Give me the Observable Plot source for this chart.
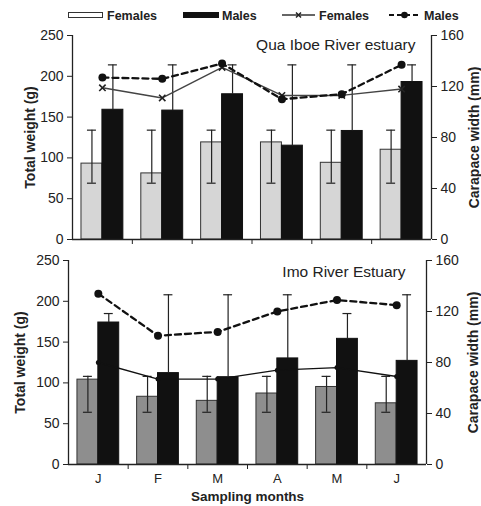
<!DOCTYPE html>
<html><head><meta charset="utf-8">
<script src="https://cdn.jsdelivr.net/npm/d3@7"></script>
<script src="https://cdn.jsdelivr.net/npm/@observablehq/plot@0.6"></script>
<style>
body{margin:0;background:#fff;font-family:"Liberation Sans",Arial,sans-serif;width:481px;height:506px;position:relative;overflow:hidden}
#legend{position:absolute;left:0;top:0;width:481px;height:25px;font-weight:bold;font-size:12.5px;color:#222}
#legend .it{position:absolute;top:9px;line-height:14px}
#legend .sw{position:absolute;top:12px;height:6px;box-sizing:border-box;border:1.2px solid #333}
#c1{position:absolute;left:0;top:25px}
#c2{position:absolute;left:0;top:250px}
</style>
</head><body>
<div id="legend"></div><div id="c1"></div><div id="c2"></div>
<script>
// ---- data ----
const months = ["J","F","M","A","M","J"];
const axisWeightTicks = [0,50,100,150,200,250];
const axisWidthTicks = [0,40,80,120,160];

// Qua Iboe River estuary
const quaFemaleWeight = [93,81,119,119,94,110];
const quaFemaleErrLow = [69,69,69,69,69,69];
const quaFemaleErrHigh = [134,134,134,134,134,134];
const quaMaleWeight = [159,158,178,115,133,193];
const quaMaleErrHigh = [214,214,214,214,214,214];
const quaFemaleWidth = [119,111,135,113,113,118];
const quaMaleWidth = [127,126,138,110,114,137];

// Imo River Estuary
const imoFemaleWeight = [104,83,78,87,95,75];
const imoFemaleErrLow = [64,64,64,64,64,64];
const imoFemaleErrHigh = [108,108,108,108,108,108];
const imoMaleWeight = [174,112,107,130,154,127];
const imoMaleErrHigh = [185,208,208,208,185,208];
const imoFemaleWidth = [80,67,67,74,76,69];
const imoMaleWidth = [134,101,104,120,129,125];

// ---- legend ----
const lg = document.getElementById("legend");
lg.innerHTML = `
<div class="sw" style="left:68px;width:35px;background:#fff"></div>
<div class="it" style="left:107px">Females</div>
<div class="sw" style="left:183px;width:36px;background:#111;border-color:#111"></div>
<div class="it" style="left:222px">Males</div>
<svg style="position:absolute;left:282px;top:10px" width="33" height="10"><line x1="0" y1="5" x2="33" y2="5" stroke="#333" stroke-width="1.3"/><path d="M14,2.5L19,7.5M19,2.5L14,7.5" stroke="#222" stroke-width="1.5"/></svg>
<div class="it" style="left:319px">Females</div>
<svg style="position:absolute;left:389px;top:10px" width="31" height="10"><line x1="0" y1="5" x2="31" y2="5" stroke="#111" stroke-width="2.2" stroke-dasharray="5,3"/><circle cx="15.5" cy="5" r="3.3" fill="#111"/></svg>
<div class="it" style="left:424px">Males</div>`;

const K = 250/160;
function build(cfg){
  const rows = months.map((m,i)=>({
    i, m,
    fw: cfg.fw[i], flo: cfg.flo[i], fhi: cfg.fhi[i],
    mw: cfg.mw[i], mhi: cfg.mhi[i],
    fc: cfg.fc[i]*K, mc: cfg.mc[i]*K
  }));
  const cap = 0.075;
  const marks = [
    Plot.rectY(rows, {x1: d=>d.i+0.15, x2: d=>d.i+0.5, y1: 0, y2: "fw", fill: cfg.femFill, stroke: "#333", strokeWidth: 1}),
    Plot.rectY(rows, {x1: d=>d.i+0.5, x2: d=>d.i+0.85, y1: 0, y2: "mw", fill: "#111", stroke: "#111", strokeWidth: 1}),
    // female error bars
    Plot.ruleX(rows, {x: d=>d.i+0.325, y1: "flo", y2: "fhi", stroke: "#222", strokeWidth: 1.2}),
    Plot.ruleY(rows, {x1: d=>d.i+0.325-cap, x2: d=>d.i+0.325+cap, y: "flo", stroke: "#222", strokeWidth: 1.2}),
    Plot.ruleY(rows, {x1: d=>d.i+0.325-cap, x2: d=>d.i+0.325+cap, y: "fhi", stroke: "#222", strokeWidth: 1.2}),
    // male error bars
    Plot.ruleX(rows, {x: d=>d.i+0.675, y1: "mw", y2: "mhi", stroke: "#222", strokeWidth: 1.2}),
    Plot.ruleY(rows, {x1: d=>d.i+0.675-cap, x2: d=>d.i+0.675+cap, y: "mhi", stroke: "#222", strokeWidth: 1.2}),
    // carapace lines
    Plot.line(rows, {x: d=>d.i+0.5, y: "fc", stroke: cfg.femLine, strokeWidth: 1.4}),
    cfg.femMarker === "times"
      ? Plot.dot(rows, {x: d=>d.i+0.5, y: "fc", symbol: "times", r: 3, stroke: "#222", strokeWidth: 1.6})
      : Plot.dot(rows, {x: d=>d.i+0.5, y: "fc", r: 2.5, fill: "#111"}),
    Plot.line(rows, {x: d=>d.i+0.5, y: "mc", stroke: "#111", strokeWidth: 2.3, strokeDasharray: "6,4"}),
    Plot.dot(rows, {x: d=>d.i+0.5, y: "mc", r: 4, fill: "#111"}),
    // axes
    Plot.ruleY([0], {stroke: "#222", strokeWidth: 1.3}),
    Plot.ruleX([0, 6], {stroke: "#222", strokeWidth: 1.3}),
    Plot.axisY(axisWeightTicks, {anchor: "left", tickSize: 5, tickPadding: 4, label: null, stroke: "#222"}),
    Plot.axisY(axisWidthTicks.map(v=>v*K), {anchor: "right", tickSize: 5, tickPadding: 4, label: null, stroke: "#222", tickFormat: v => Math.round(v/K)}),
    Plot.axisX([1,2,3,4,5], {anchor: "bottom", tickSize: 5, tickFormat: () => "", label: null, stroke: "#222"}),
    Plot.text([cfg.leftLabel], {frameAnchor: "left", textAnchor: "middle", lineAnchor: "middle", rotate: -90, dx: cfg.ldx, fontWeight: "bold", fontSize: 14, fill: "#222"}),
    Plot.text([cfg.rightLabel], {frameAnchor: "right", textAnchor: "middle", lineAnchor: "middle", rotate: -90, dx: cfg.rdx, fontWeight: "bold", fontSize: 14, fill: "#222"}),
    Plot.text([cfg.title], {frameAnchor: "top-right", textAnchor: "end", lineAnchor: "top", dx: cfg.tdx, dy: cfg.tdy, fontSize: 15.5, fill: "#222"})
  ];
  if (cfg.showMonths) {
    marks.push(Plot.axisX(months.map((m,i)=>i+0.5), {anchor: "bottom", tickSize: 0, tickPadding: 9, tickFormat: v => months[Math.floor(v)], label: null, fontSize: 13}));
    marks.push(Plot.text(["Sampling months"], {frameAnchor: "bottom", lineAnchor: "top", dy: 27, fontWeight: "bold", fontSize: 13.5, fill: "#222"}));
  }
  return Plot.plot({
    width: 481, height: cfg.height,
    marginLeft: cfg.ml, marginRight: cfg.mr, marginTop: cfg.mt, marginBottom: cfg.mb,
    style: {fontSize: "14px", fontFamily: "'Liberation Sans', Arial, sans-serif", color: "#222", background: "#fff", overflow: "visible"},
    x: {type: "linear", domain: [0, 6], axis: null},
    y: {domain: [0, 250], axis: null},
    marks
  });
}

document.getElementById("c1").appendChild(build({
  fw: quaFemaleWeight, flo: quaFemaleErrLow, fhi: quaFemaleErrHigh,
  mw: quaMaleWeight, mhi: quaMaleErrHigh, fc: quaFemaleWidth, mc: quaMaleWidth,
  femFill: "#d6d6d6", femLine: "#444", femMarker: "times",
  title: "Qua Iboe River estuary", leftLabel: "Total weight (g)", rightLabel: "Carapace width (mm)",
  height: 225, ml: 72, mr: 50, mt: 10, mb: 11, ldx: -42, rdx: 43, tdx: -16, tdy: 3, showMonths: false
}));
document.getElementById("c2").appendChild(build({
  fw: imoFemaleWeight, flo: imoFemaleErrLow, fhi: imoFemaleErrHigh,
  mw: imoMaleWeight, mhi: imoMaleErrHigh, fc: imoFemaleWidth, mc: imoMaleWidth,
  femFill: "#8e8e8e", femLine: "#111", femMarker: "dot",
  title: "Imo River Estuary", leftLabel: "Total weight (g)", rightLabel: "Carapace width (mm)",
  height: 256, ml: 68, mr: 55, mt: 10, mb: 42, ldx: -48, rdx: 47, tdx: -21, tdy: 5, showMonths: true
}));
</script>
</body></html>
